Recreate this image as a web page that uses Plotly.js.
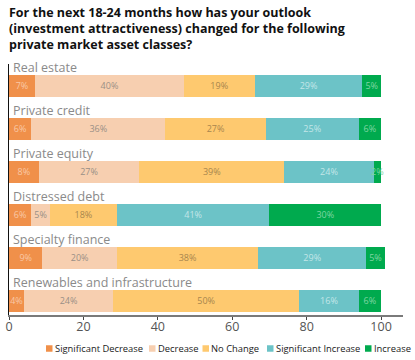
<!DOCTYPE html>
<html>
<head>
<meta charset="utf-8">
<script src="https://cdn.plot.ly/plotly-3.0.1.min.js"></script>
<style>html,body{margin:0;padding:0;background:#fff}#chart{width:415px;height:360px}</style>
</head>
<body>
<div id="chart"></div>
<script>
var categories = ["Real estate", "Private credit", "Private equity", "Distressed debt", "Specialty finance", "Renewables and infrastructure"];
var seriesNames = ["Significant Decrease", "Decrease", "No Change", "Significant Increase", "Increase"];
var sigDecrease = [7, 6, 8, 6, 9, 4];
var decrease = [40, 36, 27, 5, 20, 24];
var noChange = [19, 27, 39, 18, 38, 50];
var sigIncrease = [29, 25, 24, 41, 29, 16];
var increase = [5, 6, 2, 30, 5, 6];
var xTicks = [0, 20, 40, 60, 80, 100];

var seriesValues = [sigDecrease, decrease, noChange, sigIncrease, increase];
var colors = ["#F0904A", "#F7CFB0", "#FEC96F", "#6CC3C7", "#00AA4E"];
var textColors = ["#F9C8A6", "#9A8F86", "#A8864E", "#C3E6E8", "#7FD6A3"];

// page geometry (pixels)
var W = 415, H = 360, ML = 9, MR = 12, MT = 64, MB = 45;
var PW = W - ML - MR, PH = H - MT - MB;
// custom legend swatch left edges (px) and vertical centre (px)
var legendSwatchLeft = [46, 149, 202.5, 267, 365];
var legendCenterY = 348.5, swatch = 6.5;

var traces = seriesValues.map(function (vals, i) {
  return {
    type: "bar",
    orientation: "h",
    name: seriesNames[i],
    y: categories,
    x: vals,
    width: 0.51,
    marker: { color: colors[i], line: { width: 0 } },
    texttemplate: "%{x}%",
    textposition: "inside",
    insidetextanchor: "middle",
    textangle: 0,
    textfont: { family: "Open Sans", size: 9, color: textColors[i] },
    hoverinfo: "skip",
    showlegend: false
  };
});

var annotations = categories.map(function (c) {
  return {
    text: c, x: 0, y: c, xref: "x", yref: "y",
    xanchor: "left", yanchor: "middle", xshift: 2, yshift: 18,
    showarrow: false,
    font: { family: "Open Sans", size: 12.5, color: "#8a8a8a" }
  };
});

var shapes = [];
seriesNames.forEach(function (n, i) {
  var left = legendSwatchLeft[i];
  shapes.push({
    type: "rect", xref: "paper", yref: "paper", layer: "above",
    x0: (left - ML) / PW, x1: (left + swatch - ML) / PW,
    y0: (H - MB - legendCenterY - swatch / 2) / PH, y1: (H - MB - legendCenterY + swatch / 2) / PH,
    fillcolor: colors[i], line: { width: 0 }
  });
  annotations.push({
    text: n, xref: "paper", yref: "paper",
    x: (left + swatch + 1.5 - ML) / PW, y: (H - MB - legendCenterY) / PH,
    xanchor: "left", yanchor: "middle", showarrow: false, borderpad: 0,
    font: { family: "Open Sans", size: 9.4, color: "#222" }
  });
});

var layout = {
  width: W, height: H,
  margin: { l: ML, r: MR, t: MT, b: MB, autoexpand: false },
  paper_bgcolor: "#fff", plot_bgcolor: "#fff",
  barmode: "stack",
  bargap: 0.49,
  showlegend: false,
  uniformtext: { minsize: 9, mode: "show" },
  title: {
    text: "For the next 18-24 months how has your outlook<br>(investment attractiveness) changed for the following<br>private market asset classes?",
    font: { family: "Open Sans", size: 12.5, color: "#111", weight: "bold" },
    x: 0, xref: "paper", xanchor: "left", xpad: 0,
    y: 0.953, yref: "container", yanchor: "top"
  },
  xaxis: {
    range: [0, 105.9], tickvals: xTicks, showgrid: false, zeroline: false,
    showline: true, linecolor: "#7a7a7a", linewidth: 2,
    ticks: "outside", ticklen: 3, tickcolor: "#444", tickwidth: 1,
    ticklabelstandoff: -4,
    tickfont: { family: "Open Sans", size: 12.5, color: "#555" }
  },
  yaxis: {
    type: "category", range: [5.33, -0.507], showticklabels: false,
    showgrid: false, zeroline: false, showline: true, linecolor: "#111", linewidth: 1.5,
    ticks: ""
  },
  shapes: shapes,
  annotations: annotations
};

Plotly.newPlot("chart", traces, layout, { displayModeBar: false, staticPlot: true });
</script>
</body>
</html>
